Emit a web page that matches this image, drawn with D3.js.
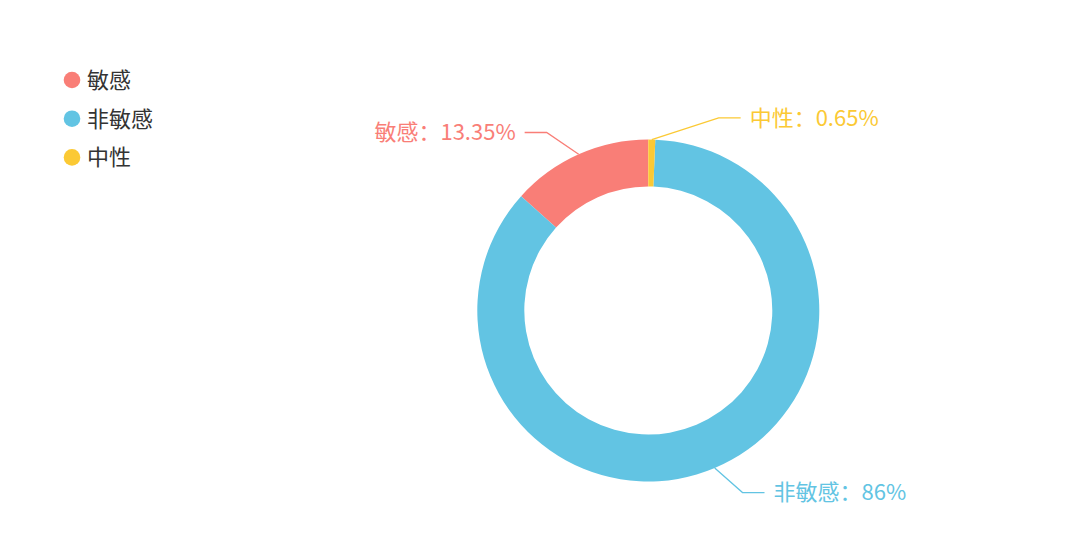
<!DOCTYPE html>
<html>
<head>
    <meta charset="utf-8">
    <title>敏感 / 非敏感 / 中性</title>
    <script type="text/javascript" src="https://d3js.org/d3.v7.min.js"></script>
    <style>
      body { margin: 0; background: #fff; }
      text { font-family: "Noto Sans CJK SC", "Noto Sans", sans-serif; }
    </style>
</head>
<body>
    <script type="text/javascript">
        // data
        var categories = ["敏感", "非敏感", "中性"]
        var shares = [13.35, 86, 0.65]
        var colors = ["#f97e77", "#62c4e3", "#fbc934"]

        var width = 1080
        var height = 541
        var svg = d3.select("body")
            .append("svg")
            .attr("width", width)
            .attr("height", height)

        var cx = 648.3, cy = 310.5
        var outerR = 171, innerR = 124

        var rows = categories.map(function(c, i) {
            return {name: c, value: shares[i], color: colors[i]}
        })

        // counter-clockwise from 12 o'clock, like the original
        var pie = d3.pie()
            .sort(null)
            .value(function(d) { return d.value })
            .startAngle(0)
            .endAngle(-2 * Math.PI)
        var arc = d3.arc().innerRadius(innerR).outerRadius(outerR)
        var arcs = pie(rows)

        var g = svg.append("g").attr("transform", "translate(" + cx + "," + cy + ")")
        g.selectAll("path.slice")
            .data(arcs)
            .enter()
            .append("path")
            .attr("class", "slice")
            .attr("d", arc)
            .attr("fill", function(d) { return d.data.color })

        // labels pushed around a little to avoid each other (as the original does)
        var nudge = {"敏感": -5.7, "非敏感": -4.5, "中性": 18.9}
        var elbowR = 205, hLen = 22, gap = 9

        function polar(r, a) { return [r * Math.sin(a), -r * Math.cos(a)] }

        arcs.forEach(function(d) {
            var mid = (d.startAngle + d.endAngle) / 2
            var p0 = polar(outerR, mid)
            var p1 = polar(elbowR, mid + nudge[d.data.name] * Math.PI / 180)
            var right = Math.sin(mid) > 0
            var p2 = [p1[0] + (right ? hLen : -hLen), p1[1]]
            g.append("path")
                .attr("d", d3.line()([p0, p1, p2]))
                .attr("fill", "none")
                .attr("stroke", d.data.color)
                .attr("stroke-width", 1.3)
            g.append("text")
                .attr("x", p2[0] + (right ? gap : -gap))
                .attr("y", p2[1])
                .attr("dy", "0.36em")
                .attr("text-anchor", right ? "start" : "end")
                .attr("fill", d.data.color)
                .style("font-size", "22px")
                .text(d.data.name + "：" + d.data.value + "%")
        })

        // legend
        var legend = svg.append("g").attr("transform", "translate(72,80)")
        var item = legend.selectAll("g")
            .data(rows)
            .enter()
            .append("g")
            .attr("transform", function(d, i) { return "translate(0," + (i * 38.7) + ")" })
        item.append("circle")
            .attr("r", 8.3)
            .attr("fill", function(d) { return d.color })
        item.append("text")
            .attr("x", 15)
            .attr("dy", "0.36em")
            .attr("fill", "#333")
            .style("font-size", "22px")
            .text(function(d) { return d.name })
    </script>
</body>
</html>
